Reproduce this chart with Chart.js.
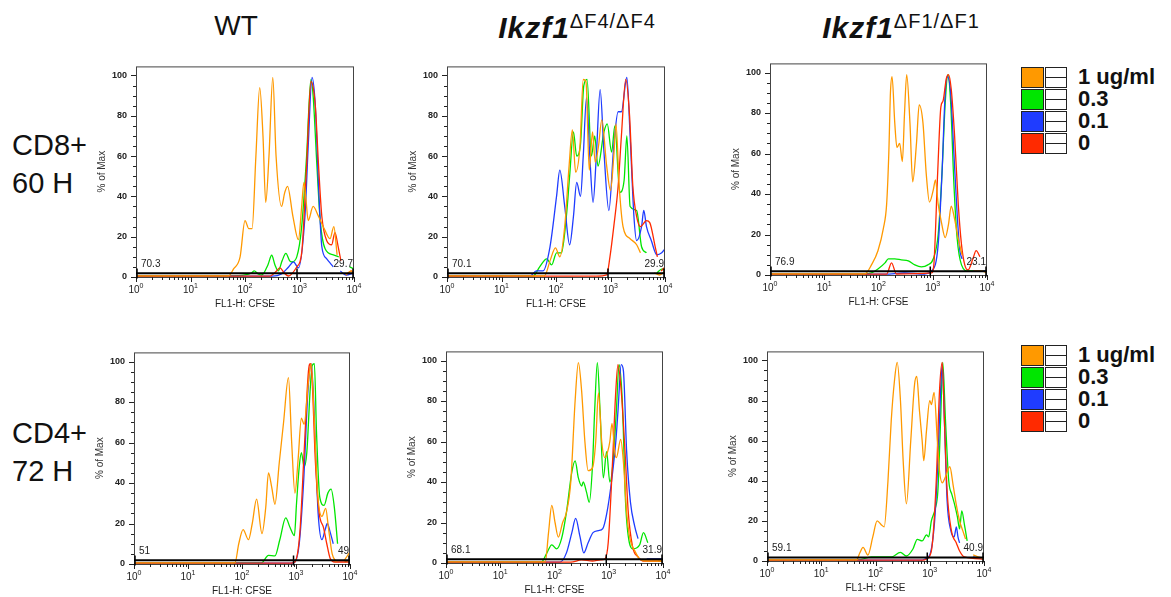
<!DOCTYPE html>
<html>
<head>
<meta charset="utf-8">
<script src="https://cdn.jsdelivr.net/npm/chart.js@4.4.0/dist/chart.umd.min.js"></script>
<style>
  body { margin: 0; background: #fff; width: 1171px; height: 597px; position: relative; overflow: hidden;
         font-family: "Liberation Sans", Arial, sans-serif; color: #111; }
  canvas { position: absolute; }
  .ttl { position: absolute; top: 10px; font-size: 28px; white-space: nowrap; transform: translateX(-50%); }
  .ttl i { font-weight: bold; font-size: 30px; letter-spacing: 1px; }
  .ttl sup { font-size: 20px; vertical-align: 10px; letter-spacing: 1px; }
  .rowlbl { position: absolute; left: 12px; font-size: 29px; line-height: 38px; }
  .legend { position: absolute; left: 1021px; }
  .legend .item { height: 22px; display: flex; align-items: center; }
  .legend .sw { width: 23px; height: 21px; border: 1px solid #222; box-sizing: border-box; }
  .legend .blank { width: 22px; height: 21px; border: 1px solid #222; box-sizing: border-box; margin-left: 1px;
                   background: linear-gradient(#222, #222) center / 100% 1px no-repeat; }
  .legend span { font-weight: bold; font-size: 22px; margin-left: 11px; }
</style>
</head>
<body>

<div class="ttl" style="left:236px">WT</div>
<div class="ttl" style="left:577px"><i>Ikzf1</i><sup>ΔF4/ΔF4</sup></div>
<div class="ttl" style="left:901px"><i>Ikzf1</i><sup>ΔF1/ΔF1</sup></div>

<div class="rowlbl" style="top:126px">CD8+<br>60 H</div>
<div class="rowlbl" style="top:414px">CD4+<br>72 H</div>

<div class="legend" id="legendTop" style="top:66px"></div>
<div class="legend" id="legendBottom" style="top:344px"></div>

<script>
// doses, legend order
const doseLabels = ['1 ug/ml', '0.3', '0.1', '0'];
const doseColors = ['#ff9900', '#00e600', '#1f3cff', '#ff2a00'];

// histogram traces: [log10 CFSE, % of max], null = break in trace
const cd8WtOrange = [[0,0.6],[1.70,0.6],[1.79,4],[1.91,10],[2.0,28],[2.07,24],[2.13,24],[2.2,60],[2.27,94],[2.33,70],[2.38,37],[2.44,60],[2.51,99],[2.57,60],[2.67,35],[2.73,42],[2.78,45],[2.88,30],[2.98,18.5],[3.04,35],[3.08,47],[3.12,38],[3.16,28],[3.25,35],[3.35,30],[3.47,23],[3.56,19],[3.63,25],[3.69,11],[3.75,null],[3.85,1],[3.95,3],[4.0,1]];
const cd8WtGreen = [[0,0.5],[1.7,0.5],[2.0,1],[2.12,2],[2.17,3],[2.24,1.5],[2.31,1],[2.42,6],[2.49,10.8],[2.55,6],[2.61,3],[2.68,8],[2.75,11.7],[2.82,8],[2.86,7.5],[2.95,10],[3.04,25],[3.13,60],[3.21,98],[3.25,90],[3.32,55],[3.38,28],[3.47,14],[3.62,11],[3.72,10],[3.8,null],[3.92,5],[4.0,4]];
const cd8WtBlue = [[0,0.4],[2.5,0.4],[2.67,1.5],[2.8,5],[2.89,7.5],[2.98,4.5],[3.1,30],[3.16,65],[3.23,99],[3.29,85],[3.35,45],[3.41,15],[3.5,9],[3.59,6],[3.62,5],[3.7,null],[3.75,3],[3.85,1],[4.0,2]];
const cd8WtRed = [[0,0.4],[2.45,0.4],[2.58,3],[2.64,4.5],[2.72,2],[2.8,0.5],[2.95,5],[3.04,12],[3.13,55],[3.21,97],[3.29,85],[3.35,55],[3.41,30],[3.5,18],[3.59,16],[3.65,22],[3.71,15],[3.76,8],[3.8,null],[3.85,1],[3.95,3],[4.0,1]];

const cd8F4Orange = [[0,0.6],[1.79,0.6],[1.89,8],[1.99,14.5],[2.07,10],[2.16,25],[2.24,55],[2.3,73],[2.36,52],[2.44,65],[2.5,98],[2.55,97],[2.61,53],[2.67,72],[2.72,57],[2.78,65],[2.84,78],[2.93,55],[3.0,43],[3.06,60],[3.1,76],[3.16,45],[3.23,25],[3.36,19],[3.48,16],[3.55,12],[3.7,null],[3.8,2],[3.9,1],[4.0,3]];
const cd8F4Green = [[0,0.5],[1.58,0.5],[1.7,5],[1.83,9],[1.92,6],[2.01,12],[2.1,12],[2.19,30],[2.25,50],[2.32,72],[2.38,60],[2.45,66],[2.51,95],[2.57,98],[2.65,60],[2.71,70],[2.77,55],[2.88,72],[2.94,76],[3.02,62],[3.08,75],[3.17,42],[3.25,48],[3.3,70],[3.36,35],[3.48,33],[3.57,15],[3.66,12],[3.75,null],[3.85,2],[3.95,4],[4.0,3]];
const cd8F4Blue = [[0,0.4],[1.52,0.4],[1.64,3],[1.76,3],[1.89,15],[2.01,40],[2.07,53],[2.16,35],[2.25,16],[2.32,30],[2.38,47],[2.45,40],[2.5,60],[2.56,89],[2.62,60],[2.68,37],[2.74,60],[2.81,93],[2.88,62],[2.97,33],[3.06,65],[3.14,82],[3.2,82],[3.3,99],[3.36,70],[3.43,30],[3.48,18],[3.57,25],[3.61,33],[3.66,25],[3.75,18],[3.85,11],[3.94,12],[4.0,14]];
const cd8F4Red = [[0,0.4],[2.74,0.4],[2.93,1],[2.99,10],[3.06,25],[3.14,45],[3.2,70],[3.28,98],[3.35,80],[3.41,45],[3.48,30],[3.55,25],[3.66,28],[3.72,27],[3.82,15],[3.86,10],[3.9,null],[3.93,3],[4.0,5]];

const cd8F1Orange = [[0,0.6],[1.75,0.6],[1.87,5],[1.99,12],[2.09,23],[2.15,35],[2.19,60],[2.22,90],[2.25,98],[2.3,75],[2.34,63],[2.39,65],[2.44,56],[2.48,80],[2.52,99],[2.58,75],[2.63,46],[2.7,65],[2.75,84],[2.82,75],[2.88,50],[2.94,36],[3.01,42],[3.05,47],[3.1,35],[3.16,26],[3.23,18.5],[3.29,25],[3.34,34],[3.4,28],[3.47,18],[3.54,10],[3.6,null],[3.75,2],[3.9,2],[4.0,1]];
const cd8F1Green = [[0,0.5],[1.75,0.5],[1.87,1],[1.99,3],[2.12,6],[2.18,8],[2.3,8],[2.42,7.5],[2.55,7],[2.67,5],[2.79,4],[2.91,5],[3.01,8],[3.1,20],[3.17,50],[3.23,85],[3.28,99],[3.33,85],[3.39,45],[3.45,18],[3.53,5],[3.65,2],[3.83,2],[4.0,2]];
const cd8F1Blue = [[0,0.4],[2.12,0.4],[2.48,1],[2.85,0.5],[2.98,2],[3.1,15],[3.17,50],[3.23,90],[3.27,98],[3.33,90],[3.39,60],[3.45,30],[3.5,12],[3.54,8],[3.65,null],[3.75,2],[4.0,2]];
const cd8F1Red = [[0,0.4],[2.15,0.4],[2.24,6],[2.33,0.5],[2.98,1],[3.02,5],[3.09,50],[3.15,83],[3.19,86],[3.25,97],[3.29,99],[3.34,92],[3.4,70],[3.47,35],[3.53,15],[3.59,5],[3.65,2.5],[3.74,8],[3.8,12],[3.87,9]];

const cd4WtOrange = [[0,0.6],[1.87,0.6],[1.94,10],[2.02,17],[2.12,12],[2.19,20],[2.27,32],[2.37,15],[2.44,28],[2.49,45],[2.55,38],[2.61,29.5],[2.69,50],[2.77,70],[2.86,92],[2.92,60],[2.98,35],[3.04,52],[3.1,72],[3.15,69],[3.23,90],[3.28,99],[3.34,70],[3.4,35],[3.48,23.5],[3.55,27.5],[3.6,18],[3.67,5],[3.75,1],[3.85,null],[3.9,2],[4.0,6]];
const cd4WtGreen = [[0,0.5],[2.36,0.5],[2.49,4.3],[2.61,4],[2.7,12],[2.81,22.8],[2.89,18],[2.97,14],[3.01,30],[3.06,48],[3.1,55],[3.15,48],[3.2,55],[3.26,85],[3.3,98],[3.34,99],[3.38,65],[3.44,33],[3.52,29],[3.59,35],[3.65,37],[3.71,28],[3.77,10],[3.85,null],[3.9,1],[4.0,2]];
const cd4WtBlue = [[0,0.4],[2.92,0.4],[2.98,1],[3.06,10],[3.14,40],[3.22,85],[3.28,99],[3.32,85],[3.37,50],[3.41,25],[3.48,12],[3.54,17],[3.58,20],[3.63,16],[3.69,10]];
const cd4WtRed = [[0,0.4],[2.9,0.4],[2.98,1],[3.07,15],[3.15,55],[3.23,95],[3.27,99],[3.3,90],[3.36,50],[3.43,25],[3.51,18],[3.57,10],[3.63,3],[3.72,1],[4.0,1]];

const cd4F4Orange = [[0,0.6],[1.83,0.6],[1.89,15],[1.95,28.5],[2.01,20],[2.07,12.8],[2.15,20],[2.22,25],[2.3,40],[2.38,80],[2.44,99],[2.5,85],[2.56,60],[2.62,45.6],[2.7,47],[2.76,60],[2.81,84],[2.87,60],[2.93,52],[2.98,55],[3.02,60],[3.06,69],[3.11,55],[3.14,52],[3.22,61],[3.27,50],[3.33,25],[3.39,12],[3.48,6],[3.57,2],[3.7,1],[4.0,1]];
const cd4F4Green = [[0,0.5],[1.76,0.5],[1.86,5],[1.95,9],[2.04,7],[2.13,12],[2.22,25],[2.32,45],[2.38,50.4],[2.44,42],[2.5,38],[2.53,40],[2.59,35],[2.64,30],[2.7,48],[2.74,75],[2.79,99],[2.84,75],[2.9,42],[2.96,55],[3.02,40],[3.08,50],[3.14,75],[3.19,98],[3.25,80],[3.31,30],[3.38,10],[3.45,7],[3.57,9],[3.64,15],[3.72,10],[3.8,null],[3.9,1],[4.0,1]];
const cd4F4Blue = [[0,0.4],[2.1,0.4],[2.22,5],[2.32,15],[2.39,22],[2.47,13],[2.54,5],[2.62,10],[2.71,15],[2.81,16],[2.89,17],[2.96,24],[3.05,40],[3.13,60],[3.17,75],[3.23,98],[3.27,95],[3.33,55],[3.4,30],[3.48,18],[3.54,12],[3.6,null],[3.7,2],[4.0,2]];
const cd4F4Red = [[0,0.4],[2.3,0.4],[2.5,1.5],[2.7,1],[2.85,1.5],[2.93,2],[2.99,10],[3.07,50],[3.13,85],[3.17,98],[3.23,85],[3.3,55],[3.36,25],[3.44,8],[3.54,3],[3.63,1],[4.0,1]];

const cd4F1Orange = [[0,0.6],[1.65,0.6],[1.71,4],[1.77,6.8],[1.86,3],[1.95,12],[2.03,20],[2.11,18],[2.16,17],[2.23,40],[2.29,70],[2.35,90],[2.4,99],[2.46,80],[2.51,50],[2.57,28.5],[2.65,60],[2.72,88],[2.76,92],[2.81,75],[2.86,60],[2.89,50],[2.94,65],[3.0,80],[3.03,78],[3.08,84],[3.14,60],[3.18,45],[3.23,39],[3.29,42],[3.37,47],[3.43,38],[3.49,28],[3.55,20],[3.61,15],[3.66,11],[3.75,null],[3.8,3],[3.9,2],[4.0,1]];
const cd4F1Green = [[0,0.5],[1.68,0.5],[1.92,2],[2.29,2],[2.46,4.3],[2.57,2.5],[2.69,6],[2.77,10.8],[2.86,10],[2.94,13],[2.98,12],[3.03,20],[3.1,26],[3.15,35],[3.2,70],[3.24,99],[3.29,70],[3.35,40],[3.41,33],[3.46,28],[3.51,22],[3.55,16],[3.59,25],[3.64,18],[3.69,10],[3.8,null],[3.85,2],[4.0,1]];
const cd4F1Blue = [[0,0.4],[2.85,0.4],[2.91,1],[3.0,3],[3.09,20],[3.15,50],[3.2,85],[3.23,98],[3.27,70],[3.32,30],[3.39,15],[3.45,12],[3.49,17],[3.52,12],[3.55,9],[3.7,null],[3.8,2],[4.0,1]];
const cd4F1Red = [[0,0.4],[2.88,0.4],[2.94,1],[3.03,5],[3.12,40],[3.18,85],[3.23,99],[3.27,70],[3.32,35],[3.4,15],[3.49,9],[3.55,5],[3.64,2],[4.0,1]];

// gate percentages (left / right of the cut)
const gateLeft = ['70.3', '70.1', '76.9', '51', '68.1', '59.1'];
const gateRight = ['29.7', '29.9', '23.1', '49', '31.9', '40.9'];
const gateCut = 900;
const gateLevel = 1.8;

const yLabelTicks = [0, 20, 40, 60, 80, 100];
const xDecades = [0, 1, 2, 3, 4];
const xMinorSteps = [2, 3, 4, 5, 6, 7, 8, 9];

// plot boxes on the page: left, top, right, bottom
const panels = [
  { box: [136, 60, 354, 277], traces: [cd8WtOrange, cd8WtGreen, cd8WtBlue, cd8WtRed] },
  { box: [447, 60, 665, 277], traces: [cd8F4Orange, cd8F4Green, cd8F4Blue, cd8F4Red] },
  { box: [770, 57, 987, 275], traces: [cd8F1Orange, cd8F1Green, cd8F1Blue, cd8F1Red] },
  { box: [134, 346, 350, 564], traces: [cd4WtOrange, cd4WtGreen, cd4WtBlue, cd4WtRed] },
  { box: [446, 345, 663, 563], traces: [cd4F4Orange, cd4F4Green, cd4F4Blue, cd4F4Red] },
  { box: [767, 345, 984, 561], traces: [cd4F1Orange, cd4F1Green, cd4F1Blue, cd4F1Red] },
];

const PAD_L = 44, PAD_T = 8, PAD_R = 14, PAD_B = 36;
const FONT = '"Liberation Sans", Arial, sans-serif';

// frame, tick marks, superscript decade labels and gates
const flowDecor = {
  id: 'flowDecor',
  afterDatasetsDraw(chart, args, opts) {
    const { ctx, chartArea: a, scales: { x, y } } = chart;
    ctx.save();
    ctx.strokeStyle = '#444';
    ctx.lineWidth = 1;
    ctx.strokeRect(a.left + 0.5, a.top + 0.5, a.right - a.left - 1, a.bottom - a.top);

    // y tick marks every 5, long on labelled ones
    ctx.strokeStyle = '#222';
    ctx.beginPath();
    for (let v = 0; v <= 100; v += 5) {
      const py = Math.round(y.getPixelForValue(v)) + 0.5;
      const len = v % 20 === 0 ? 5 : 3;
      ctx.moveTo(a.left - len, py);
      ctx.lineTo(a.left, py);
    }
    // x tick marks below the axis
    xDecades.forEach(d => {
      const px = Math.round(x.getPixelForValue(Math.pow(10, d))) + 0.5;
      ctx.moveTo(px, a.bottom);
      ctx.lineTo(px, a.bottom + 5);
      if (d < 4) xMinorSteps.forEach(m => {
        const qx = Math.round(x.getPixelForValue(m * Math.pow(10, d))) + 0.5;
        ctx.moveTo(qx, a.bottom);
        ctx.lineTo(qx, a.bottom + 3);
      });
    });
    ctx.stroke();

    // decade labels 10^n
    ctx.fillStyle = '#222';
    ctx.textBaseline = 'alphabetic';
    ctx.textAlign = 'left';
    xDecades.forEach(d => {
      const px = x.getPixelForValue(Math.pow(10, d));
      ctx.font = '10px ' + FONT;
      const w1 = ctx.measureText('10').width;
      ctx.font = '7px ' + FONT;
      const w2 = ctx.measureText(String(d)).width;
      const x0 = px - (w1 + w2) / 2;
      ctx.font = '10px ' + FONT;
      ctx.fillText('10', x0, a.bottom + 16);
      ctx.font = '7px ' + FONT;
      ctx.fillText(String(d), x0 + w1, a.bottom + 11);
    });

    // gates
    const gy = y.getPixelForValue(gateLevel);
    const g0 = x.getPixelForValue(1), g1 = x.getPixelForValue(gateCut), g2 = x.getPixelForValue(10000);
    const tTop = y.getPixelForValue(4.2), tBot = y.getPixelForValue(-0.8);
    ctx.strokeStyle = '#000';
    ctx.lineWidth = 2;
    ctx.beginPath();
    ctx.moveTo(g0, gy); ctx.lineTo(g2, gy);
    ctx.stroke();
    ctx.lineWidth = 1.5;
    ctx.beginPath();
    [g0 + 1, g1, g2 - 1].forEach(gx => { ctx.moveTo(gx, tTop); ctx.lineTo(gx, tBot); });
    ctx.stroke();

    ctx.font = '10px ' + FONT;
    ctx.fillStyle = '#222';
    ctx.textBaseline = 'middle';
    const ly = y.getPixelForValue(6.5);
    ctx.textAlign = 'left';
    ctx.fillText(opts.left, a.left + 5, ly);
    ctx.textAlign = 'right';
    ctx.fillText(opts.right, a.right - 1, ly);
    ctx.restore();
  }
};

panels.forEach((p, i) => {
  const [L, T, R, B] = p.box;
  const cv = document.createElement('canvas');
  cv.width = R - L + PAD_L + PAD_R;
  cv.height = B - T + PAD_T + PAD_B;
  cv.style.left = (L - PAD_L) + 'px';
  cv.style.top = (T - PAD_T) + 'px';
  document.body.appendChild(cv);

  // orange drawn on top of the other doses
  const datasets = p.traces.map((tr, k) => ({
    label: doseLabels[k],
    data: tr.map(([e, v]) => ({ x: Math.pow(10, e), y: v })),
    borderColor: doseColors[k],
    order: k === 0 ? 0 : 4 - k,
  })).reverse();

  new Chart(cv, {
    type: 'line',
    data: { datasets },
    options: {
      responsive: false,
      animation: false,
      devicePixelRatio: 1,
      spanGaps: false,
      layout: { padding: { top: PAD_T, right: PAD_R, left: 0, bottom: 0 } },
      elements: {
        point: { radius: 0 },
        line: { borderWidth: 1.3, cubicInterpolationMode: 'monotone' }
      },
      plugins: {
        legend: { display: false },
        tooltip: { enabled: false },
        flowDecor: { left: gateLeft[i], right: gateRight[i] }
      },
      scales: {
        x: {
          type: 'logarithmic', min: 1, max: 10000,
          grid: { display: false, drawTicks: false },
          border: { display: false },
          ticks: { display: false },
          title: { display: true, text: 'FL1-H: CFSE', color: '#222',
                   font: { size: 10, family: FONT }, padding: { top: 0, bottom: 3 } },
          afterFit(s) { s.height = PAD_B; }
        },
        y: {
          min: 0, max: 104.5,
          afterBuildTicks(s) { s.ticks = yLabelTicks.map(v => ({ value: v })); },
          grid: { display: false, drawTicks: false },
          border: { display: false },
          ticks: { padding: 9, color: '#222', font: { size: 9, weight: 'bold', family: FONT } },
          title: { display: true, text: '% of Max', color: '#333',
                   font: { size: 10, family: FONT }, padding: { top: 4, bottom: 0 } },
          afterFit(s) { s.width = PAD_L; }
        }
      }
    },
    plugins: [flowDecor]
  });
});

// legends
['legendTop', 'legendBottom'].forEach(id => {
  const box = document.getElementById(id);
  doseLabels.forEach((lbl, k) => {
    const row = document.createElement('div');
    row.className = 'item';
    row.innerHTML = '<div class="sw" style="background:' + doseColors[k] + '"></div><div class="blank"></div><span>' + lbl + '</span>';
    box.appendChild(row);
  });
});
</script>
</body>
</html>
